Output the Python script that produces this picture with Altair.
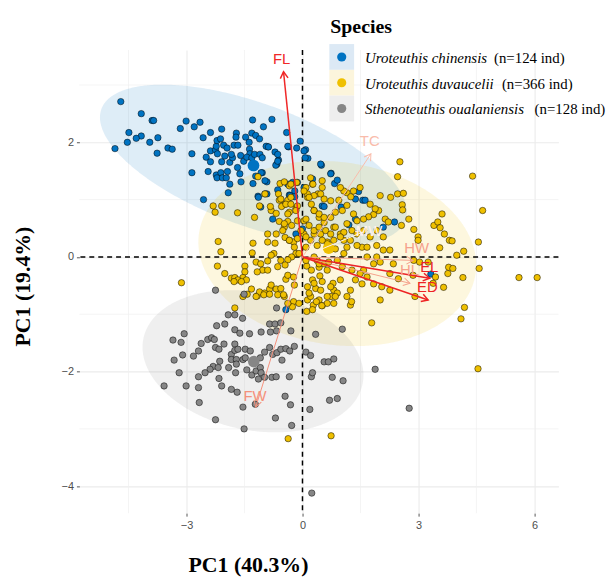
import altair as alt
import numpy as np
import pandas as pd

species = ["Uroteuthis chinensis", "Uroteuthis duvaucelii", "Sthenoteuthis oualaniensis"]
counts = ["(n=124 ind)", "(n=366 ind)", "(n=128 ind)"]
point_colors = ["#0073C2", "#EFC000", "#868686"]
key_fills = ["#DCE9F5", "#FCF5DC", "#EEEEEE"]

chinensis_pts = [
    (-4.70, 2.71), (-4.17, 2.50), (-3.89, 2.38), (-3.85, 2.38), (-4.49, 2.17), (-4.17, 2.11),
    (-4.30, 2.07), (-4.53, 2.00), (-4.85, 1.89), (-3.95, 2.00), (-3.74, 2.08), (-3.76, 1.81),
    (-3.48, 1.90), (-3.37, 1.88), (-3.16, 2.24), (-3.01, 2.37), (-2.80, 2.27), (-2.65, 2.35),
    (-2.86, 1.80), (-2.86, 1.47), (-2.57, 2.08), (-2.38, 2.17), (-2.09, 2.23), (-2.56, 1.00),
    (-2.44, 1.49), (-2.49, 1.74), (-2.38, 1.66), (-2.38, 1.85), (-2.25, 1.87), (-2.23, 1.93),
    (-2.21, 2.03), (-2.12, 2.06), (-2.04, 1.95), (-1.95, 1.90), (-2.09, 1.66), (-2.23, 1.43),
    (-2.21, 1.38), (-2.11, 1.47), (-2.07, 1.38), (-1.97, 1.38), (-1.94, 1.49), (-1.88, 1.27),
    (-1.92, 1.12), (-1.88, 1.65), (-1.81, 1.73), (-1.77, 1.95), (-1.71, 2.16), (-1.72, 2.09),
    (-1.67, 1.95), (-1.60, 1.77), (-1.68, 1.56), (-1.62, 1.45), (-1.59, 1.31), (-1.52, 1.67),
    (-1.47, 2.09), (-1.38, 2.00), (-1.31, 2.16), (-1.29, 2.39), (-1.21, 2.12), (-1.11, 2.06),
    (-1.37, 1.88), (-1.36, 1.80), (-1.44, 1.74), (-1.31, 1.73), (-1.24, 1.79), (-1.10, 1.79),
    (-1.04, 1.73), (-1.01, 2.27), (-0.79, 2.40), (-0.89, 1.92), (-0.71, 1.83), (-0.62, 1.69),
    (-0.66, 1.62), (-0.69, 1.60), (-0.41, 2.17), (-0.36, 1.92), (-0.15, 1.90), (-0.06, 2.02),
    (0.08, 1.87), (0.04, 1.85), (0.14, 1.72), (0.49, 1.60), (-1.28, 1.28), (-1.04, 1.47),
    (-0.92, 1.31), (-0.92, 1.10), (-0.97, 1.10), (-1.15, 1.06), (-0.34, 1.08), (-0.13, 1.30),
    (0.04, 1.21), (0.51, 0.89), (-1.84, 1.79), (-2.01, 1.76), (-2.20, 1.80), (-0.97, 1.33),
    (-0.94, 1.93), (-0.64, 1.79), (-0.38, 1.93), (-0.38, 1.27), (-0.26, 1.30), (-0.20, 1.15),
    (0.07, 1.73), (0.74, 1.46), (0.26, 1.36), (-0.64, 1.17), (-1.21, 1.41), (-1.14, 1.04),
    (-1.08, 0.87), (-0.77, 0.66), (-0.32, 1.07), (-0.20, 1.05), (-0.17, 0.40), (0.00, 0.49),
    (0.56, 0.88), (1.00, 0.87), (-0.43, -0.92), (-0.88, 1.92), (-0.64, 1.67), (0.47, 1.62),
    (0.73, 1.45), (0.83, 1.28), (0.90, 1.34), (1.37, 1.01), (1.56, 0.99), (1.37, 0.66),
    (1.20, 0.56), (2.38, 0.61), (-1.07, 1.47), (1.45, 1.14), (1.62, 0.99), (2.09, 0.52),
    (3.32, -0.30),
]

duvaucelii_pts = [
    (-2.09, 0.89), (-2.26, 0.78), (-1.68, 0.77), (-1.24, 0.69), (-0.97, 1.10), (-0.60, 0.99),
    (-0.45, 0.92), (-0.38, 0.99), (-0.54, 0.88), (-0.81, 0.81), (-0.68, 0.76), (-0.17, 0.84),
    (-0.34, 0.78), (-0.60, 0.62), (-0.38, 0.62), (-0.47, 0.52), (-0.28, 0.55), (-0.90, 0.40),
    (-0.68, 0.40), (-0.71, 0.24), (-2.18, 0.27), (-2.11, 0.09), (-1.28, 0.24), (-1.30, 0.07),
    (-0.90, 0.26), (-0.45, 0.34), (-0.34, 0.29), (-0.23, 0.26), (-0.13, 0.32), (-0.74, 0.06),
    (-0.81, 0.03), (-0.17, 0.06), (-0.28, 0.00), (-0.56, -0.06), (-0.38, -0.05), (-0.45, -0.14),
    (-0.64, -0.17), (-1.20, -0.09), (-1.08, -0.12), (-0.90, -0.07), (-1.03, -0.23), (-1.17, -0.26),
    (-0.90, -0.23), (-1.49, -0.16), (-1.49, -0.26), (-1.54, -0.36), (-1.45, -0.40), (-2.20, -0.16),
    (-2.01, -0.29), (-1.84, -0.37), (-1.75, -0.36), (-1.67, -0.40), (-1.77, -0.43), (-1.58, -0.43),
    (-1.32, -0.56), (-1.54, -0.69), (-1.43, -0.65), (-1.17, -0.68), (-1.11, -0.61), (-0.98, -0.63),
    (-0.85, -0.56), (-0.81, -0.49), (-0.68, -0.56), (-0.56, -0.55), (-0.64, -0.66), (-0.47, -0.69),
    (-0.43, -0.39), (-0.38, -0.32), (-0.23, -0.35), (-0.21, -0.49), (-1.75, -0.89), (-0.23, -0.78),
    (-0.26, -0.87), (0.13, -0.52), (0.26, -0.40), (0.34, -0.55), (0.45, -0.33), (0.51, -0.43),
    (0.13, -0.75), (0.28, -0.84), (0.51, -0.85), (0.74, -0.69), (0.81, -0.58), (0.79, -0.46),
    (0.11, -0.16), (0.23, -0.23), (0.43, -0.18), (0.64, -0.23), (0.38, -0.06), (0.56, -0.12),
    (0.13, 1.04), (0.23, 0.92), (0.40, 1.10), (0.56, 1.01), (0.30, 0.81), (0.73, 0.98),
    (0.43, 0.69), (0.73, 0.69), (0.56, 0.60), (0.81, 0.52), (0.98, 0.40), (0.30, 0.40),
    (0.47, 0.40), (0.64, 0.26), (0.85, 0.14), (1.07, 0.29), (0.04, 0.63), (0.04, 0.40),
    (0.09, 0.17),
    (2.28, 1.04), (2.01, 1.07), (1.97, 0.81), (1.84, 0.74), (1.71, 0.70), (1.58, 0.66),
    (2.14, 0.66), (2.22, 0.61), (2.26, 0.12), (2.09, 0.12), (2.35, -0.12), (1.84, -0.12),
    (2.01, -0.09), (1.67, 0.00), (1.92, 0.00), (1.54, 0.17), (1.15, 0.58), (1.28, 0.46),
    (1.07, 0.43), (0.85, 0.52), (0.98, 0.35), (1.24, 0.29), (1.41, 0.40), (1.41, 0.20),
    (0.85, 0.78), (1.03, 0.81), (1.15, 0.90), (0.94, 0.99), (1.15, 1.12), (1.25, 1.05),
    (1.32, 1.15), (1.49, 1.21), (1.07, 1.15), (0.98, 1.21), (1.75, 0.92), (1.88, 0.84),
    (2.26, -0.29), (2.05, -0.52), (2.01, -0.75), (1.58, -0.23), (1.54, -0.47), (1.37, -0.40),
    (1.24, -0.58), (0.98, -0.40), (0.73, -0.52), (0.90, -0.63), (1.15, -0.69), (0.81, -0.81),
    (0.30, -0.46), (0.47, -0.58), (0.21, -0.69), (0.43, -0.75), (0.64, -0.81), (1.84, -0.47),
    (2.26, -0.58), (-0.34, 1.24), (0.09, 1.21), (0.26, 1.27), (0.51, 1.33),
    (2.52, 1.66), (2.46, 1.40), (4.40, 1.41), (4.66, 0.81), (3.61, 0.75), (3.40, 0.55),
    (3.50, 0.61), (3.56, 0.51), (3.67, 0.40), (3.80, 0.29), (3.87, 0.28), (3.55, 0.16),
    (2.99, 0.35), (2.99, 0.29), (2.88, 0.48), (2.75, 0.66), (2.58, 0.91), (2.59, 0.82),
    (2.46, 1.10), (2.61, 1.11), (4.17, 0.10), (3.99, 0.03), (4.57, -0.20), (4.15, -0.36),
    (3.78, -0.18), (3.89, -0.20), (3.76, -0.29), (3.65, -0.53), (3.44, -0.35), (3.38, -0.46),
    (4.19, -0.88), (4.10, -1.08), (3.25, -0.09), (2.88, -0.06), (3.03, -0.09), (2.91, -0.69),
    (2.86, -0.32), (2.48, -0.38), (2.56, 0.55), (4.55, 0.26), (5.60, -0.36), (6.07, -0.36),
    (4.54, -1.95),
    (-1.15, 1.40), (-0.58, 1.28), (-0.47, 1.31), (-0.30, 1.27), (-0.15, 1.30), (-0.62, 1.10),
    (-0.56, 1.01), (-0.43, 0.92), (-0.30, 1.04), (-0.13, 0.89), (0.21, 1.38), (0.27, 1.27),
    (0.13, 1.10), (0.30, 1.07), (0.47, 1.10), (0.51, 1.21), (-1.11, 0.89), (-0.83, 0.88),
    (-2.31, 0.89),
    (1.79, -1.15), (-0.09, -0.81), (0.11, -0.95), (0.26, -0.92), (0.64, -0.69), (0.85, -0.69),
    (0.50, -0.85), (1.24, -0.84), (1.27, -0.78), (-1.20, -0.69), (-1.00, -0.66), (-0.85, -0.65),
    (-0.49, -0.66), (-0.38, -0.81), (0.17, -0.63), (0.36, -0.78), (-0.37, -3.17), (0.74, -3.12),
    (-3.13, -0.45),
    (0.04, 1.15), (0.17, 1.04), (0.30, 0.81), (0.43, 0.75), (0.56, 0.69), (0.09, 0.66),
    (0.17, 0.55), (0.30, 0.46), (0.43, 0.52), (0.60, 0.46), (0.73, 0.40), (0.81, 0.29),
    (0.64, 0.23), (0.51, 0.29), (0.38, 0.20), (0.21, 0.29), (0.09, 0.35), (-0.04, 0.46),
    (-0.13, 0.63), (-0.17, 0.81), (-0.30, 0.92), (-0.38, 0.75), (-0.47, 0.58), (-0.51, 0.46),
    (-0.34, 0.29), (-0.21, 0.17), (-0.09, 0.06), (0.09, -0.06), (0.30, 0.00), (0.43, -0.12),
    (0.68, -0.09), (0.90, -0.06), (1.07, 0.06), (1.15, 0.17), (1.03, -0.17), (1.28, -0.23),
    (1.49, -0.29), (1.67, -0.35), (1.32, 0.75), (1.41, 0.63), (1.58, 0.46), (1.75, 0.35),
    (1.92, 0.46), (2.09, 0.35), (1.67, 0.17), (1.92, 0.20),
]

oualaniensis_pts = [
    (-2.25, -0.58), (-1.51, -0.65), (-0.67, -0.89), (-1.92, -1.01), (-1.75, -1.01), (-1.55, -1.07),
    (-2.22, -1.20), (-2.01, -1.17), (-1.75, -1.27), (-1.62, -1.33), (-1.37, -1.34), (-1.07, -1.31),
    (-0.85, -1.17), (-0.71, -1.17), (-0.56, -1.15), (-0.83, -1.31), (-0.67, -1.29), (-0.30, -1.29),
    (0.34, -1.35), (1.03, -1.26), (-3.06, -1.34), (-3.35, -1.45), (-3.14, -1.49), (-2.62, -1.51),
    (-2.45, -1.44), (-2.35, -1.41), (-2.28, -1.44), (-2.03, -1.52), (-1.75, -1.52), (-2.25, -1.58),
    (-2.16, -1.61), (-2.69, -1.64), (-2.82, -1.73), (-3.10, -1.71), (-3.32, -1.80), (-1.84, -1.70),
    (-1.75, -1.63), (-1.67, -1.61), (-1.48, -1.61), (-1.35, -1.64), (-1.84, -1.79), (-1.71, -1.79),
    (-1.54, -1.79), (-1.48, -1.76), (-1.09, -1.76), (-0.98, -1.66), (-0.85, -1.58), (-0.77, -1.70),
    (-0.66, -1.67), (-0.56, -1.61), (-0.43, -1.60), (-0.33, -1.64), (-0.21, -1.56), (-0.53, -1.80),
    (0.09, -1.66), (0.21, -1.72), (0.56, -1.83), (0.67, -1.83), (0.81, -1.78), (-2.14, -1.82),
    (-2.31, -1.91), (-2.39, -1.96), (-2.52, -2.02), (-2.69, -2.09), (-2.18, -1.93), (-2.16, -2.12),
    (-1.91, -1.93), (-1.71, -1.87), (-1.73, -2.02), (-1.44, -1.97), (-1.31, -2.06), (-1.20, -1.99),
    (-1.09, -1.93), (-1.07, -2.02), (-1.14, -2.13), (-0.98, -2.10), (-0.79, -2.10), (-0.68, -2.09),
    (-0.34, -2.09), (0.23, -2.09), (0.26, -2.02), (0.77, -2.10), (1.05, -2.16), (1.88, -1.96),
    (-3.19, -2.02), (-3.58, -2.25), (-3.01, -2.25), (-2.69, -2.28), (-2.09, -2.25), (-1.84, -2.31),
    (-1.69, -2.36), (-2.67, -2.54), (-1.54, -2.62), (-1.22, -2.57), (-0.45, -2.43), (-0.31, -2.58),
    (0.19, -2.66), (0.70, -2.50), (0.90, -2.47), (-2.25, -2.84), (-0.70, -2.81), (-1.51, -3.00),
    (-0.28, -2.94), (2.76, -2.64), (0.24, -4.12),
]

# concentration ellipses: centre, semi-axes, rotation (degrees, data space)
ell_cx = [-1.27, 0.90, -1.28]
ell_cy = [1.61, 0.06, -1.82]
ell_a = [4.06, 3.60, 2.87]
ell_b = [1.10, 1.60, 1.21]
ell_rot = [-12.7, -4.0, -6.0]

# variable loadings (arrows)
var_names = ["FL", "TC", "MW", "HW", "HL", "EL", "ED", "FW"]
var_x = [-0.49, 1.77, 1.55, 2.86, 2.78, 3.29, 3.25, -1.21]
var_y = [3.23, 1.80, 0.43, -0.06, -0.46, -0.37, -0.75, -2.62]
var_label_x = [-0.54, 1.74, 1.72, 2.95, 2.77, 3.28, 3.23, -1.23]
var_label_y = [3.45, 2.02, 0.46, 0.15, -0.23, -0.18, -0.52, -2.43]
var_colors = ["#F02828", "#F9BCAB", "#FFF2EE", "#F5A18C", "#F5A18C", "#EC2228", "#EE2424", "#F5917B"]
var_widths = [1.5, 1.0, 1.0, 1.0, 1.0, 1.5, 1.5, 1.0]

x_ticks = [-3, 0, 3, 6]
y_ticks = [-4, -2, 0, 2]
x_minor = [-4.5, -1.5, 1.5, 4.5]
y_minor = [-3, -1, 1, 3]
x_domain = [-5.77, 6.62]
y_domain = [-4.47, 3.61]

W, H = 483, 467

# ---------------- data frames ----------------
rows = []
for sp, pts in zip(species, [chinensis_pts, duvaucelii_pts, oualaniensis_pts]):
    for (px, py) in pts:
        rows.append({"species": sp, "x": px, "y": py})
pts_df = pd.DataFrame(rows)


def ellipse_band(cx, cy, a, b, rot, n=241):
    th = np.radians(rot)
    c, s = np.cos(th), np.sin(th)
    m11 = c * c / a ** 2 + s * s / b ** 2
    m22 = s * s / a ** 2 + c * c / b ** 2
    m12 = c * s * (1 / a ** 2 - 1 / b ** 2)
    xext = np.sqrt(m22 / (m11 * m22 - m12 ** 2))
    t = np.linspace(0, np.pi, n)
    dx = -xext * np.cos(t)
    disc = np.clip(m12 ** 2 * dx ** 2 - m22 * (m11 * dx ** 2 - 1), 0, None)
    ylo = (-m12 * dx - np.sqrt(disc)) / m22
    yhi = (-m12 * dx + np.sqrt(disc)) / m22
    return cx + dx, cy + ylo, cy + yhi


ell_rows = []
for i, sp in enumerate(species):
    ex, elo, ehi = ellipse_band(ell_cx[i], ell_cy[i], ell_a[i], ell_b[i], ell_rot[i])
    for a_, b_, c_ in zip(ex, elo, ehi):
        ell_rows.append({"species": sp, "x": a_, "y": b_, "y2": c_})
ell_df = pd.DataFrame(ell_rows)

sx = W / (x_domain[1] - x_domain[0])
sy = H / (y_domain[1] - y_domain[0])
var_df = pd.DataFrame({
    "name": var_names, "x": var_x, "y": var_y, "x0": 0.0, "y0": 0.0,
    "lx": var_label_x, "ly": var_label_y, "col": var_colors, "w": var_widths,
})
var_df["angle"] = (np.degrees(np.arctan2(-var_df["y"] * sy, var_df["x"] * sx)) + 360) % 360

xminor_df = pd.DataFrame({"x": x_minor})
yminor_df = pd.DataFrame({"y": y_minor})
origin_df = pd.DataFrame({"x": [0.0], "y": [0.0]})

# ---------------- encodings ----------------
xscale = alt.Scale(domain=x_domain, nice=False, zero=False)
yscale = alt.Scale(domain=y_domain, nice=False, zero=False)
xaxis = alt.Axis(values=x_ticks, title="PC1 (40.3%)", grid=True, gridColor="#EBEBEB",
                 gridWidth=1.1, domain=False, ticks=True, tickSize=3, tickColor="#555555",
                 labelFont="Liberation Sans", labelFontSize=11, labelColor="#4D4D4D",
                 labelPadding=3, titleFont="Liberation Serif", titleFontSize=22,
                 titleFontWeight="bold", titleColor="black", titleX=170, titleY=59,
                 titleAlign="center", titleBaseline="alphabetic")
yaxis = alt.Axis(values=y_ticks, title="PC1 (19.4%)", grid=True, gridColor="#EBEBEB",
                 gridWidth=1.1, domain=False, ticks=True, tickSize=3, tickColor="#555555",
                 labelFont="Liberation Sans", labelFontSize=11, labelColor="#4D4D4D",
                 labelPadding=3, titleFont="Liberation Serif", titleFontSize=22,
                 titleFontWeight="bold", titleColor="black", titleX=-50, titleY=238,
                 titleAngle=270, titleAlign="center", titleBaseline="alphabetic")


def X(f):
    return alt.X(f, type="quantitative", scale=xscale, axis=xaxis)


def Y(f):
    return alt.Y(f, type="quantitative", scale=yscale, axis=yaxis, stack=None)


col_enc = alt.Color("species:N", scale=alt.Scale(domain=species, range=point_colors), legend=None)

minor_v = alt.Chart(xminor_df).mark_rule(color="#EFEFEF", strokeWidth=0.7).encode(x=X("x"))
minor_h = alt.Chart(yminor_df).mark_rule(color="#EFEFEF", strokeWidth=0.7).encode(y=Y("y"))

ellipses = alt.Chart(ell_df).mark_area(opacity=0.13).encode(
    x=X("x"), y=Y("y"), y2="y2:Q", color=col_enc, detail="species:N"
)

vline = alt.Chart(origin_df).mark_rule(color="black", strokeWidth=1.5, strokeDash=[5, 4]).encode(x=X("x"))
hline = alt.Chart(origin_df).mark_rule(color="black", strokeWidth=1.5, strokeDash=[5, 4]).encode(y=Y("y"))

points = alt.Chart(pts_df).mark_circle(size=42, opacity=1, stroke="black", strokeWidth=0.5).encode(
    x=X("x"), y=Y("y"), color=col_enc
)

centroids = alt.Chart(pts_df).transform_aggregate(
    mx="mean(x)", my="mean(y)", groupby=["species"]
).mark_circle(size=140, opacity=1).encode(x=X("mx"), y=Y("my"), color=col_enc)

arrow_lines = alt.Chart(var_df).mark_rule().encode(
    x=X("x0"), y=Y("y0"), x2="x:Q", y2="y:Q",
    color=alt.Color("col:N", scale=None), strokeWidth=alt.StrokeWidth("w:Q", scale=None)
)
arrow_heads = alt.Chart(var_df).mark_point(
    shape="M -1 -0.6 L 0 0 L -1 0.6", filled=False, size=170, opacity=1
).encode(
    x=X("x"), y=Y("y"), angle=alt.Angle("angle:Q", scale=None),
    color=alt.Color("col:N", scale=None), strokeWidth=alt.StrokeWidth("w:Q", scale=None)
)
arrow_labels = alt.Chart(var_df).mark_text(
    font="Liberation Sans", fontSize=15, align="center", baseline="middle"
).encode(x=X("lx"), y=Y("ly"), text="name:N", color=alt.Color("col:N", scale=None))

# ---------------- manual legend (mixed italic / regular labels) ----------------
one = pd.DataFrame({"k": [0]})
legend_layers = [
    alt.Chart(one).mark_text(text="Species", font="Liberation Serif", fontSize=20,
                             fontWeight="bold", align="left", baseline="alphabetic", color="black")
    .encode(x=alt.value(253), y=alt.value(-17))
]
count_x = [418, 426, 459]
for i, sp in enumerate(species):
    top = -6 + i * 26
    mid = top + 13
    legend_layers.append(
        alt.Chart(one).mark_rect(color=key_fills[i]).encode(
            x=alt.value(252), x2=alt.value(277), y=alt.value(top), y2=alt.value(top + 26))
    )
    legend_layers.append(
        alt.Chart(one).mark_circle(size=85, opacity=1, color=point_colors[i]).encode(
            x=alt.value(264.5), y=alt.value(mid))
    )
    legend_layers.append(
        alt.Chart(one).mark_text(text=sp, font="Liberation Serif", fontSize=15, fontStyle="italic",
                                 align="left", baseline="middle", color="black").encode(
            x=alt.value(288), y=alt.value(mid + 1))
    )
    legend_layers.append(
        alt.Chart(one).mark_text(text=counts[i], font="Liberation Serif", fontSize=15,
                                 align="left", baseline="middle", color="black").encode(
            x=alt.value(count_x[i]), y=alt.value(mid + 1))
    )

chart = alt.layer(
    minor_v, minor_h, ellipses, vline, hline, points, centroids,
    arrow_lines, arrow_heads, arrow_labels, *legend_layers
).properties(
    width=W, height=H,
    padding={"left": 72, "top": 40, "right": 50, "bottom": 62},
    autosize=alt.AutoSizeParams(type="none"),
    background="white",
).configure_view(stroke=None)

chart.save("out.html", embed_options={"renderer": "svg", "actions": False})
